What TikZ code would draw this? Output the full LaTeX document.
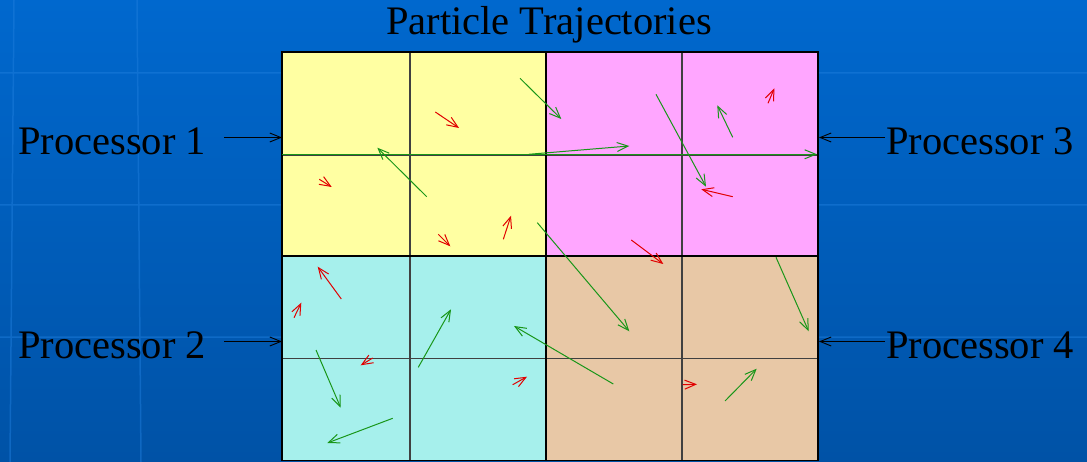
\documentclass[tikz,border=0pt]{standalone}
\usepackage{fontspec}
\setmainfont{Liberation Serif}
\usetikzlibrary{arrows.meta,positioning}

\definecolor{slidetop}{RGB}{0,104,206}
\definecolor{slidebottom}{RGB}{0,82,166}
\definecolor{slideline}{RGB}{30,125,220}
\definecolor{cellyellow}{RGB}{255,255,162}
\definecolor{cellpink}{RGB}{255,166,255}
\definecolor{cellcyan}{RGB}{166,240,236}
\definecolor{celltan}{RGB}{232,200,166}
\definecolor{trajgreen}{RGB}{25,150,25}
\definecolor{trajred}{RGB}{225,0,0}

\begin{document}
\begin{tikzpicture}[
  x=1pt, y=-1pt,
  >={Straight Barb[length=11pt,width=9pt]},
  quad/.style={draw=black, line width=1.4pt, inner sep=0pt, outer sep=0pt, anchor=north west},
  cell line/.style={draw=black!75, line width=1.1pt},
  label text/.style={font=\fontsize{40.5}{44}\selectfont, inner sep=0pt, anchor=base west},
  proc arrow/.style={->, line width=0.9pt},
  traj/.style={->, trajgreen, line width=1pt},
  fast/.style={->, trajred, line width=1pt}
]
  \useasboundingbox (0,0) rectangle (1087,462);
  % slide background with its faint template lines
  \shade[top color=slidetop, bottom color=slidebottom] (0,0) rectangle (1087,462);
  \draw[slideline, line width=1.5pt, opacity=0.5]
    (0,73) -- (1087,73) (0,205) -- (1087,205) (0,337) -- (1087,337)
    (14,0) -- (10,462) (137,0) -- (141,462);

  \node[font=\fontsize{40.5}{44}\selectfont, inner sep=0pt, anchor=base] (title) at (549,35) {Particle Trajectories};

  % the four processor domains
  \node[quad, fill=cellyellow, minimum width=264pt, minimum height=204pt] (q1) at (282,52) {};
  \node[quad, fill=cellcyan, minimum width=264pt, minimum height=204.5pt] (q2) at (282,256) {};
  \node[quad, fill=cellpink, minimum width=272pt, minimum height=204pt] (q3) at (546,52) {};
  \node[quad, fill=celltan, minimum width=272pt, minimum height=204.5pt] (q4) at (546,256) {};

  % cells inside each domain
  \draw[cell line] (410,52) -- (410,460.5) (682,52) -- (682,460.5)
    (282,155) -- (818,155) (282,358.5) -- (818,358.5);
  \draw[line width=1.4pt] (q1.north west) rectangle (q4.south east)
    (q1.south west) -- (q3.south east) (q1.north east) -- (q2.south east);

  \node[label text] (lab1) at (18,155) {Processor 1};
  \node[label text] (lab2) at (18,359) {Processor 2};
  \node[label text] (lab3) at (886,155) {Processor 3};
  \node[label text] (lab4) at (886,359) {Processor 4};

  \draw[proc arrow] ([xshift=18pt,yshift=17.5pt]lab1.base east) -- ([yshift=17.5pt]lab1.base -| q1.west);
  \draw[proc arrow] ([xshift=18pt,yshift=17.5pt]lab2.base east) -- ([yshift=17.5pt]lab2.base -| q2.west);
  \draw[proc arrow] ([xshift=-1pt,yshift=17.5pt]lab3.base west) -- ([xshift=1pt,yshift=17.5pt]lab3.base -| q3.east);
  \draw[proc arrow] ([xshift=-1pt,yshift=17.5pt]lab4.base west) -- ([xshift=1pt,yshift=17.5pt]lab4.base -| q4.east);

  % particle trajectories
  \path[traj]
    (282,154.3) edge (817,154.3)
    (426.7,196.7) edge (377.3,147.7)
    (520,78.3) edge (561.3,119)
    (537.3,222.7) edge (629.3,331.3)
    (528.7,154.3) edge (629.3,146)
    (656,94.3) edge (706,186.7)
    (732.7,137.3) edge (717.3,105.3)
    (316,350) edge (340.7,407.7)
    (418.3,367.3) edge (451,309.3)
    (392.7,418.3) edge (327.3,443)
    (613.3,384) edge (514,326)
    (776,257.3) edge (808.7,331.3)
    (725,401) edge (756.7,368.7);
  \path[fast]
    (435.3,112) edge (459,128)
    (319.3,179.3) edge (331.7,187)
    (438.3,234.3) edge (450.3,246.3)
    (503.3,239.3) edge (511,215.7)
    (768,103.3) edge (774.3,88.3)
    (732.7,196.7) edge (701.3,189.3)
    (631.3,240) edge (663.3,264)
    (341.3,299) edge (317.7,266.7)
    (294,317.7) edge (301.3,302.7)
    (372.7,358) edge (360.7,365.3)
    (512.7,384.7) edge (527,376.7)
    (682.7,384.7) edge (697,384.3);
\end{tikzpicture}
\end{document}
